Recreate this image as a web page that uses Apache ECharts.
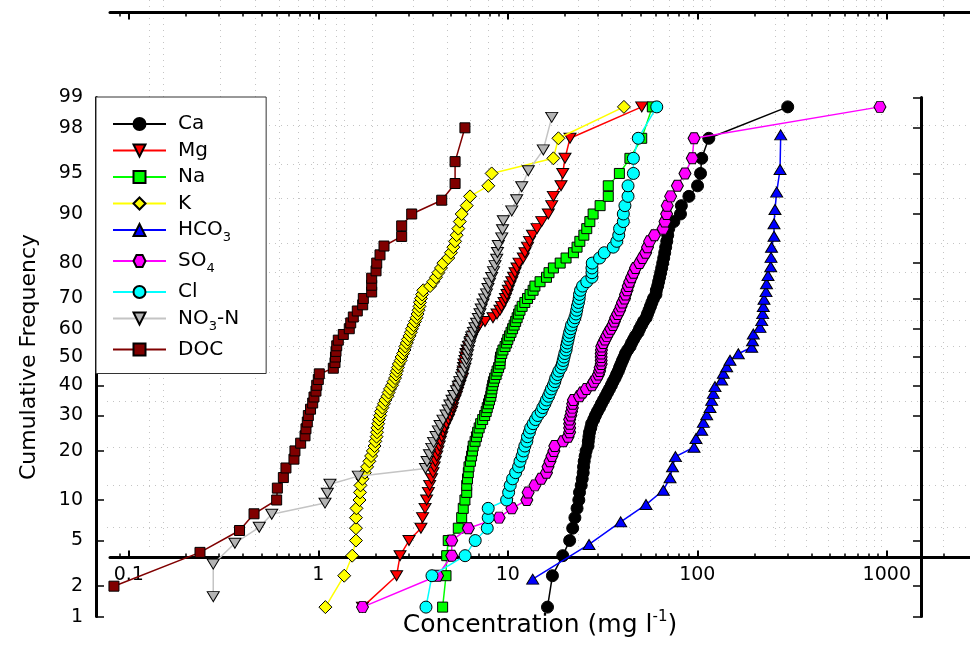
<!DOCTYPE html>
<html>
<head>
<meta charset="utf-8">
<script src="https://cdn.jsdelivr.net/npm/echarts@6/dist/echarts.min.js"></script>
<style>
  html, body { margin: 0; padding: 0; background: #fff; }
  #chart { width: 970px; height: 647px; }
</style>
</head>
<body>
<div id="chart"></div>
<script>
// Sample concentrations (mg/l), sorted ascending for each constituent
const ca = [16.2, 17.2, 19.5, 21.2, 22.0, 22.6, 23.2, 23.7, 23.9, 24.4,
  24.7, 25.0, 25.1, 25.3, 25.6, 25.9, 26.5, 26.6, 26.8, 27.0,
  27.4, 27.7, 28.4, 29.0, 29.7, 30.5, 31.2, 32.0, 32.8, 33.6,
  34.4, 35.2, 35.9, 36.8, 37.5, 38.3, 38.9, 39.6, 40.3, 41.1,
  41.8, 42.9, 44.2, 45.0, 46.1, 47.2, 48.7, 49.6, 50.8, 52.0,
  53.7, 54.6, 55.6, 56.6, 57.6, 58.7, 60.5, 60.8, 61.8, 62.5,
  63.3, 64.1, 64.9, 65.7, 66.5, 67.3, 68.1, 69.0, 69.8, 70.7,
  75.2, 81.5, 82.4, 90.3, 100.3, 104, 105.5, 115, 300];
const mg = [1.71, 2.59, 2.70, 3.01, 3.48, 3.55, 3.66, 3.73, 3.81, 3.87,
  3.96, 4.03, 4.09, 4.15, 4.22, 4.28, 4.35, 4.41, 4.48, 4.55,
  4.63, 4.75, 4.86, 4.95, 5.05, 5.11, 5.16, 5.27, 5.36, 5.43,
  5.50, 5.59, 5.66, 5.77, 5.78, 5.82, 5.84, 5.87, 5.94, 5.98,
  6.02, 6.09, 6.20, 6.32, 6.43, 6.55, 6.71, 6.88, 7.09, 7.58,
  8.35, 8.77, 9.09, 9.26, 9.55, 9.72, 9.90, 10.06, 10.27, 10.49,
  10.72, 10.92, 11.18, 11.46, 12.07, 12.32, 12.71, 13.02, 13.50, 14.26,
  15.10, 16.36, 17.05, 17.39, 19.09, 19.49, 20.04, 21.29, 50.9];
const na = [4.53, 4.72, 4.76, 4.85, 5.48, 5.71, 5.82, 5.94, 6.07, 6.07,
  6.13, 6.19, 6.24, 6.35, 6.44, 6.51, 6.57, 6.72, 6.84, 6.93,
  7.06, 7.19, 7.37, 7.55, 7.69, 7.79, 7.91, 8.01, 8.13, 8.18,
  8.25, 8.32, 8.40, 8.52, 8.68, 8.78, 8.94, 9.10, 9.10, 9.15,
  9.29, 9.43, 9.67, 9.86, 10.0, 10.2, 10.4, 10.6, 10.8, 11.0,
  11.2, 11.4, 11.6, 11.9, 12.3, 12.7, 13.1, 13.6, 13.9, 14.8,
  16.0, 16.5, 17.4, 18.9, 20.3, 22.2, 23.2, 24.0, 25.2, 26.1,
  27.1, 28.2, 30.7, 33.9, 33.9, 38.8, 44.1, 50.9, 57.9];
const k = [1.09, 1.37, 1.51, 1.58, 1.58, 1.58, 1.59, 1.65, 1.66, 1.67,
  1.71, 1.76, 1.81, 1.86, 1.90, 1.94, 1.98, 2.00, 2.03, 2.04,
  2.05, 2.07, 2.09, 2.12, 2.14, 2.18, 2.22, 2.26, 2.32, 2.35,
  2.39, 2.45, 2.49, 2.54, 2.57, 2.60, 2.63, 2.66, 2.72, 2.75,
  2.80, 2.85, 2.88, 2.93, 2.97, 3.03, 3.08, 3.12, 3.18, 3.24,
  3.30, 3.34, 3.38, 3.42, 3.44, 3.48, 3.53, 3.58, 3.89, 4.04,
  4.18, 4.30, 4.44, 4.57, 4.85, 5.01, 5.16, 5.27, 5.37, 5.48,
  5.58, 5.71, 6.07, 6.32, 7.89, 8.22, 17.4, 18.5, 41.0];
const hco3 = [13.53, 26.83, 39.43, 53.6, 66.2, 71.8, 74.0, 76.7, 96.1, 98.4,
  105.5, 107.6, 112.1, 116.7, 119.1, 121.5, 124.0, 134.5, 137.2, 142.9,
  148.8, 164.6, 193.7, 195.6, 197.5, 214.2, 218.7, 221.4, 223.0, 224.9,
  230.4, 231.8, 236.1, 244.0, 244.9, 246.4, 254.0, 254.0, 257.0, 262.4,
  273.3, 275.5];
const so4 = [1.71, 4.26, 5.06, 5.06, 6.19, 9.0, 10.5, 12.6, 12.8, 13.9,
  15.0, 16.0, 16.3, 16.7, 17.1, 17.5, 17.7, 19.6, 20.8, 21.2,
  21.2, 21.2, 21.2, 21.5, 21.7, 21.9, 22.0, 22.2, 23.9, 24.8,
  26.0, 27.8, 28.5, 29.4, 30.1, 30.5, 30.7, 31.1, 31.1, 31.1,
  31.1, 31.2, 31.3, 31.9, 32.6, 33.3, 34.1, 35.0, 35.9, 36.5,
  37.1, 38.0, 38.9, 39.6, 40.3, 41.3, 41.8, 42.6, 43.2, 44.0,
  45.0, 46.1, 47.2, 49.6, 51.4, 53.4, 54.6, 56.0, 59.4, 66.0,
  67.5, 68.9, 69.4, 72.3, 78.5, 86.1, 94.1, 96.1, 920];
const cl = [3.70, 3.98, 5.95, 6.73, 7.79, 7.88, 7.88, 9.86, 10.1, 10.3,
  10.6, 11.0, 11.4, 11.6, 11.9, 12.1, 12.3, 12.6, 12.7, 13.0,
  13.2, 13.6, 14.0, 14.4, 15.0, 15.3, 15.7, 16.0, 16.4, 16.7,
  17.0, 17.4, 17.7, 17.9, 18.3, 18.6, 19.1, 19.4, 19.6, 19.8,
  20.0, 20.3, 20.4, 20.6, 20.8, 21.0, 21.2, 21.5, 21.7, 22.2,
  22.6, 22.9, 23.1, 23.3, 23.6, 23.8, 23.9, 24.2, 24.8, 26.1,
  27.8, 27.8, 27.8, 27.9, 30.5, 32.3, 36.0, 37.6, 38.5, 38.9,
  40.7, 40.7, 41.5, 43.1, 43.1, 46.0, 46.0, 48.8, 61.1];
const no3n = [0.279, 0.279, 0.363, 0.488, 0.568, 1.085, 1.116, 1.152, 1.626, 3.68,
  3.75, 3.86, 3.97, 4.06, 4.18, 4.30, 4.39, 4.55, 4.72, 4.84,
  4.95, 5.08, 5.19, 5.36, 5.48, 5.58, 5.71, 5.82, 5.94, 6.02,
  6.06, 6.13, 6.20, 6.28, 6.35, 6.45, 6.59, 6.71, 6.84, 6.99,
  7.13, 7.24, 7.40, 7.55, 7.72, 7.86, 8.01, 8.22, 8.41, 8.56,
  8.74, 8.82, 8.91, 9.29, 9.38, 9.47, 10.49, 11.14, 11.84, 12.83,
  15.39, 17.05];
const doc = [0.0835, 0.2375, 0.384, 0.458, 0.603, 0.608, 0.654, 0.675, 0.744, 0.753,
  0.807, 0.851, 0.861, 0.875, 0.886, 0.910, 0.934, 0.949, 0.972, 0.981,
  1.00, 1.012, 1.200, 1.225, 1.232, 1.240, 1.251, 1.275, 1.355, 1.457,
  1.483, 1.530, 1.606, 1.715, 1.728, 1.913, 1.913, 1.913, 2.017, 2.034,
  2.117, 2.222, 2.754, 2.754, 3.111, 4.48, 5.27, 5.27, 5.94];

const seriesNames = ['Ca', 'Mg', 'Na', 'K', 'HCO3', 'SO4', 'Cl', 'NO3-N', 'DOC'];
const seriesValues = [ca, mg, na, k, hco3, so4, cl, no3n, doc];

// Axis ticks
const freqTicks = [1, 2, 5, 10, 20, 30, 40, 50, 60, 70, 80, 90, 95, 98, 99];
const concMajor = [0.1, 1, 10, 100, 1000];
const concMinor = [0.09, 0.2, 0.3, 0.4, 0.5, 0.6, 0.7, 0.8, 0.9,
  2, 3, 4, 5, 6, 7, 8, 9, 20, 30, 40, 50, 60, 70, 80, 90,
  200, 300, 400, 500, 600, 700, 800, 900, 2000];
// Dotted background reference lines
const refConc = [0.128, 0.152, 0.303, 0.463, 0.620, 0.781, 0.938, 1.085, 1.24, 1.366,
  1.92, 3.16, 4.78, 6.32, 7.86, 9.32, 10.65, 12.03, 13.42, 23.5, 29.9, 44.2, 58.4,
  70.9, 84.1, 94.9, 105.9, 116.7, 257, 287, 375, 489, 587, 688, 777, 856, 932, 1980];
const refFreq = [98.1, 95.8, 92.3, 84.6, 77.7, 69.2, 63.0, 53.9, 44.7, 34.7, 21.0, 12.6, 6.3];

// Inverse of the standard normal CDF (Acklam's rational approximation)
function probit(p) {
  const a = [-3.969683028665376e+01, 2.209460984245205e+02, -2.759285104469687e+02,
    1.383577518672690e+02, -3.066479806614716e+01, 2.506628277459239e+00];
  const b = [-5.447609879822406e+01, 1.615858368580409e+02, -1.556989798598866e+02,
    6.680131188771972e+01, -1.328068155288572e+01];
  const c = [-7.784894002430293e-03, -3.223964580411365e-01, -2.400758277161838e+00,
    -2.549732539343734e+00, 4.374664141464968e+00, 2.938163982698783e+00];
  const d = [7.784695709041462e-03, 3.224671290700398e-01, 2.445134137142996e+00,
    3.754408661907416e+00];
  const pl = 0.02425;
  let q, r;
  if (p < pl) {
    q = Math.sqrt(-2 * Math.log(p));
    return (((((c[0] * q + c[1]) * q + c[2]) * q + c[3]) * q + c[4]) * q + c[5]) /
      ((((d[0] * q + d[1]) * q + d[2]) * q + d[3]) * q + 1);
  }
  if (p > 1 - pl) {
    q = Math.sqrt(-2 * Math.log(1 - p));
    return -(((((c[0] * q + c[1]) * q + c[2]) * q + c[3]) * q + c[4]) * q + c[5]) /
      ((((d[0] * q + d[1]) * q + d[2]) * q + d[3]) * q + 1);
  }
  q = p - 0.5; r = q * q;
  return (((((a[0] * r + a[1]) * r + a[2]) * r + a[3]) * r + a[4]) * r + a[5]) * q /
    (((((b[0] * r + b[1]) * r + b[2]) * r + b[3]) * r + b[4]) * r + 1);
}

// Cumulative frequency of each sorted sample: Weibull plotting position i/(n+1)
function toPoints(vals) {
  const n = vals.length;
  return vals.map((v, i) => [v, probit((i + 1) / (n + 1))]);
}

// Layout: pixel of 1 mg/l and pixels per decade on the log axes
const X_ONE = 318.3, PX_DEC = 189.5;
const concAt = px => Math.pow(10, (px - X_ONE) / PX_DEC);
const Z_MAX = probit(0.99);
const PLOT_TOP = 97.4, PLOT_BOT = 616.6;
const PX_Z = (PLOT_BOT - PLOT_TOP) / (2 * Z_MAX);
const Y_MID = (PLOT_TOP + PLOT_BOT) / 2;
const zAt = py => (Y_MID - py) / PX_Z;

const FONT = 'DejaVu Sans, Verdana, sans-serif';
const freqZ = freqTicks.map(p => probit(p / 100));
const hexagon = 'path://M-1,0 L-0.5,-0.866 L0.5,-0.866 L1,0 L0.5,0.866 L-0.5,0.866 Z';

const styles = {
  'Ca':    { symbol: 'circle',   size: 12, fill: '#000000', line: '#000000' },
  'Mg':    { symbol: 'triangle', size: [12, 10], rotate: 180, fill: '#ff0000', line: '#ff0000' },
  'Na':    { symbol: 'rect',     size: 10, fill: '#00ff00', line: '#00ff00' },
  'K':     { symbol: 'diamond',  size: 13, fill: '#ffff00', line: '#ffff00' },
  'HCO3':  { symbol: 'triangle', size: [12, 10], fill: '#0000ff', line: '#0000ff' },
  'SO4':   { symbol: hexagon,    size: [12, 11], fill: '#ff00ff', line: '#ff00ff' },
  'Cl':    { symbol: 'circle',   size: 12, fill: '#00ffff', line: '#00ffff' },
  'NO3-N': { symbol: 'triangle', size: [12, 10], rotate: 180, fill: '#b4b4b4', line: '#c4c4c4' },
  'DOC':   { symbol: 'rect',     size: 10, fill: '#800000', line: '#800000' }
};

const series = seriesNames.map((name, i) => {
  const s = styles[name];
  return {
    name: name,
    type: 'line',
    xAxisIndex: 0,
    yAxisIndex: 0,
    data: toPoints(seriesValues[i]),
    symbol: s.symbol,
    symbolSize: s.size,
    symbolRotate: s.rotate || 0,
    showAllSymbol: true,
    clip: false,
    itemStyle: { color: s.fill, borderColor: '#000', borderWidth: 1 },
    lineStyle: { color: s.line, width: 1.5 },
    emphasis: { disabled: true },
    z: 2 + i * 0.01
  };
});

const legendLabel = {
  'HCO3': 'HCO{s|3}',
  'SO4': 'SO{s|4}',
  'NO3-N': 'NO{s|3}-N'
};

const tickFmt = v => (v < 1 ? String(+v.toFixed(2)) : String(Math.round(v)));
const blackLine = { show: true, onZero: false, lineStyle: { color: '#000', width: 3 } };
const noLine = { show: false, onZero: false };
const dotted = { show: true, lineStyle: { color: '#c4c4c4', width: 1, type: [1, 5] } };

const option = {
  animation: false,
  backgroundColor: '#fff',
  grid: [
    { left: 96, top: PLOT_TOP, width: 825, height: PLOT_BOT - PLOT_TOP },   // data
    { left: 110, top: 400, width: 860, height: 157.5 },                   // lower concentration axis
    { left: 110, top: 12.5, width: 860, height: 100 },                    // upper concentration axis
    { left: 107, top: 0, width: 863, height: 550 }                        // dotted reference lines
  ],
  xAxis: [
    { gridIndex: 0, type: 'log', min: concAt(96), max: concAt(921), show: false, axisLine: noLine },
    {
      gridIndex: 1, type: 'log', position: 'bottom', z: 1,
      min: concAt(110), max: concAt(970),
      axisLine: blackLine,
      axisTick: { show: true, inside: true, length: 4, customValues: concMinor,
        lineStyle: { color: '#000', width: 1.5 } },
      minorTick: { show: false },
      splitLine: { show: false },
      axisLabel: { show: true, customValues: concMajor, formatter: tickFmt, margin: 8,
        fontFamily: FONT, fontSize: 19, color: '#000' },
      name: '{t|Concentration (mg l}{s|-1}{t|)}',
      nameLocation: 'middle', nameGap: 55,
      nameTextStyle: {
        color: '#000', fontFamily: FONT, fontSize: 25,
        rich: {
          t: { fontFamily: FONT, fontSize: 25, color: '#000' },
          s: { fontFamily: FONT, fontSize: 15, color: '#000', height: 8, padding: [0, 0, 16, 0] }
        }
      }
    },
    {
      gridIndex: 1, type: 'log', position: 'bottom', z: 1,
      min: concAt(110), max: concAt(970),
      axisLine: noLine,
      axisTick: { show: true, inside: true, length: 7, customValues: concMajor,
        lineStyle: { color: '#000', width: 2 } },
      axisLabel: { show: false }, splitLine: { show: false }
    },
    {
      gridIndex: 2, type: 'log', position: 'top', z: 1,
      min: concAt(110), max: concAt(970),
      axisLine: blackLine,
      axisTick: { show: true, inside: true, length: 4, customValues: concMinor,
        lineStyle: { color: '#000', width: 1.5 } },
      axisLabel: { show: false }, splitLine: { show: false }
    },
    {
      gridIndex: 2, type: 'log', position: 'top', z: 1,
      min: concAt(110), max: concAt(970),
      axisLine: noLine,
      axisTick: { show: true, inside: true, length: 7, customValues: concMajor,
        lineStyle: { color: '#000', width: 2 } },
      axisLabel: { show: false }, splitLine: { show: false }
    },
    {
      gridIndex: 3, type: 'log', z: 0,
      min: concAt(107), max: concAt(970),
      axisLine: noLine,
      axisTick: { show: false, customValues: refConc },
      axisLabel: { show: false },
      splitLine: dotted
    }
  ],
  yAxis: [
    {
      gridIndex: 0, type: 'value', position: 'left', z: 1,
      min: -Z_MAX, max: Z_MAX,
      axisLine: blackLine,
      axisTick: { show: true, inside: true, length: 8, customValues: freqZ,
        lineStyle: { color: '#000', width: 1.5 } },
      axisLabel: {
        show: true, customValues: freqZ, margin: 13,
        fontFamily: FONT, fontSize: 19, color: '#000',
        formatter: v => {
          let best = 0;
          freqZ.forEach((z, i) => { if (Math.abs(z - v) < Math.abs(freqZ[best] - v)) best = i; });
          return String(freqTicks[best]);
        }
      },
      splitLine: { show: false },
      name: 'Cumulative Frequency',
      nameLocation: 'middle', nameGap: 56, nameRotate: 90,
      nameTextStyle: { color: '#000', fontFamily: FONT, fontSize: 22 }
    },
    {
      gridIndex: 0, type: 'value', position: 'right', z: 1,
      min: -Z_MAX, max: Z_MAX,
      axisLine: blackLine,
      axisTick: { show: true, inside: true, length: 8, customValues: freqZ,
        lineStyle: { color: '#000', width: 1.5 } },
      axisLabel: { show: false },
      splitLine: { show: false }
    },
    { gridIndex: 1, type: 'value', show: false },
    { gridIndex: 2, type: 'value', show: false },
    {
      gridIndex: 3, type: 'value', z: 0,
      min: zAt(550), max: zAt(0),
      axisLine: noLine,
      axisTick: { show: false, customValues: refFreq.map(p => probit(p / 100)) },
      axisLabel: { show: false },
      splitLine: dotted
    }
  ],
  legend: {
    orient: 'vertical',
    left: 96, top: 97,
    data: seriesNames,
    selectedMode: false,
    itemWidth: 53, itemHeight: 15, itemGap: 6.5,
    padding: [17, 27, 14, 16],
    backgroundColor: '#fff',
    borderColor: '#333',
    borderWidth: 1,
    z: 4,
    formatter: name => legendLabel[name] || name,
    textStyle: {
      fontFamily: FONT, fontSize: 20, color: '#000', lineHeight: 20,
      padding: [0, 0, 0, 7],
      rich: {
        s: { fontFamily: FONT, fontSize: 13, color: '#000', height: 6, padding: [16, 0, 0, 0] }
      }
    }
  },
  series: series
};

const chart = echarts.init(document.getElementById('chart'), null, { renderer: 'canvas' });
chart.setOption(option);
</script>
</body>
</html>
